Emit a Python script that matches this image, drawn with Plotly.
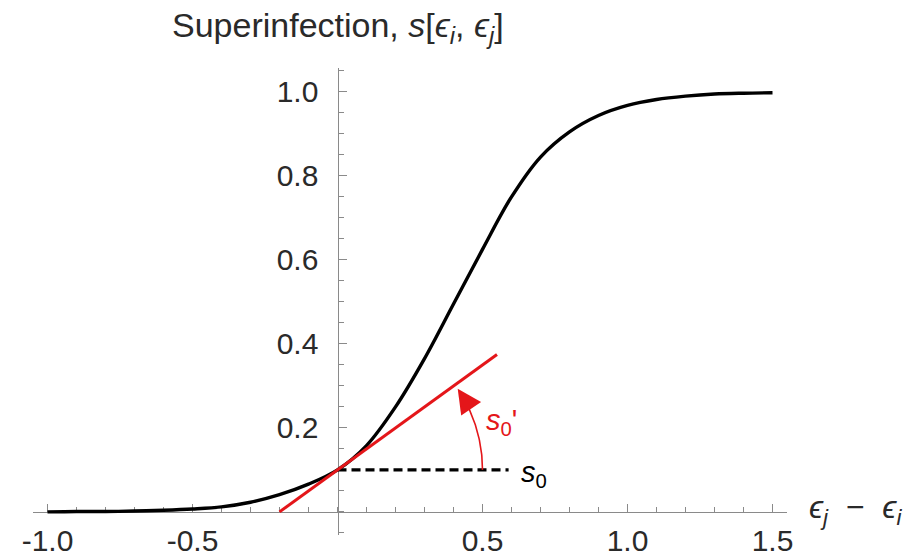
import numpy as np
import plotly.graph_objects as go

# ---- data ----
curve_x = [-1.0, -0.9, -0.8, -0.7, -0.6, -0.5, -0.4, -0.3, -0.2, -0.1, 0.0,
           0.1, 0.2, 0.3, 0.4, 0.5, 0.6, 0.7, 0.8, 0.9, 1.0, 1.1, 1.2, 1.3, 1.4, 1.5]
curve_y = [0.000, 0.001, 0.001, 0.002, 0.004, 0.007, 0.012, 0.023, 0.041, 0.066, 0.100,
           0.158, 0.250, 0.365, 0.495, 0.625, 0.750, 0.845, 0.905, 0.944, 0.968, 0.982,
           0.990, 0.995, 0.997, 0.998]
tangent_x = [-0.2, 0.55]
tangent_y = [0.0, 0.375]
dash_x = [0.0, 0.59]
dash_y = [0.1, 0.1]
x_ticks = [-1.0, -0.5, 0.5, 1.0, 1.5]
x_tick_labels = ["-1.0", "-0.5", "0.5", "1.0", "1.5"]
y_ticks = [0.2, 0.4, 0.6, 0.8, 1.0]
y_tick_labels = ["0.2", "0.4", "0.6", "0.8", "1.0"]

# ---- layout geometry ----
W, H = 914, 557
ML, MR, MT, MB = 33, 127, 68, 22
x_range = [-1.05, 1.55]
y_range = [-0.055, 1.057]
plot_w = W - ML - MR
plot_h = H - MT - MB
px_x = plot_w / (x_range[1] - x_range[0])
px_y = plot_h / (y_range[1] - y_range[0])

RED = "rgb(228,22,26)"
AXIS = "#8a8a8a"
TXT = "#2a2a2a"
FONT = "Liberation Sans, Arial, sans-serif"

fig = go.Figure()
fig.add_trace(go.Scatter(x=curve_x, y=curve_y, mode="lines",
                         line=dict(color="black", width=3.4, shape="spline", smoothing=1.0),
                         hoverinfo="skip", showlegend=False))
fig.add_trace(go.Scatter(x=dash_x, y=dash_y, mode="lines",
                         line=dict(color="black", width=3.2, dash="9px,5px"),
                         hoverinfo="skip", showlegend=False))
fig.add_trace(go.Scatter(x=tangent_x, y=tangent_y, mode="lines",
                         line=dict(color=RED, width=3),
                         hoverinfo="skip", showlegend=False))

# angle arc (decoration) centred at the point (0, s0), radius 0.5 in x units
R_px = 0.5 * px_x
cx, cy = dash_x[0], dash_y[0]
theta = np.linspace(0, np.radians(27), 40)
arc_x = cx + R_px * np.cos(theta) / px_x
arc_y = cy + R_px * np.sin(theta) / px_y
fig.add_trace(go.Scatter(x=arc_x, y=arc_y, mode="lines",
                         line=dict(color=RED, width=1.6),
                         hoverinfo="skip", showlegend=False))
tip_t = np.radians(34)
L = 18
fig.add_annotation(x=cx + R_px * np.cos(tip_t) / px_x, y=cy + R_px * np.sin(tip_t) / px_y,
                   ax=L * np.sin(tip_t), ay=L * np.cos(tip_t), xref="x", yref="y",
                   text="", showarrow=True, arrowhead=2, arrowsize=3, arrowwidth=1.6,
                   arrowcolor=RED, standoff=0)

fig.add_annotation(x=0.505, y=0.215, xref="x", yref="y", xanchor="left", yanchor="middle",
                   text="<i>s</i><sub>0</sub>'", showarrow=False,
                   font=dict(family=FONT, size=29, color=RED))
fig.add_annotation(x=0.625, y=0.09, xref="x", yref="y", xanchor="left", yanchor="middle",
                   text="<i>s</i><sub>0</sub>", showarrow=False,
                   font=dict(family=FONT, size=29, color="black"))

# axis labels
fig.add_annotation(x=0, y=1 + 41 / plot_h, xref="x", yref="paper",
                   xanchor="center", yanchor="middle",
                   text="Superinfection, <i>s</i>[<i>ϵ</i><sub><i>i</i></sub>, <i>ϵ</i><sub><i>j</i></sub>]",
                   showarrow=False, font=dict(family=FONT, size=34, color=TXT))
fig.add_annotation(x=1, y=0, xref="paper", yref="y", xanchor="left", yanchor="middle",
                   xshift=20, yshift=2,
                   text="<i>ϵ</i><sub><i>j</i></sub>&nbsp;&nbsp;−&nbsp;&nbsp;<i>ϵ</i><sub><i>i</i></sub>",
                   showarrow=False, font=dict(family=FONT, size=32, color=TXT))

x_pos = (0 - y_range[0]) / (y_range[1] - y_range[0])
y_pos = (0 - x_range[0]) / (x_range[1] - x_range[0])

fig.update_layout(
    width=W, height=H, margin=dict(l=ML, r=MR, t=MT, b=MB, autoexpand=False),
    paper_bgcolor="white", plot_bgcolor="white", showlegend=False,
    xaxis=dict(range=x_range, anchor="free", position=x_pos, showgrid=False, zeroline=False,
               automargin=False,
               showline=True, linecolor=AXIS, linewidth=1.2, layer="below traces",
               tickmode="array", tickvals=x_ticks, ticktext=x_tick_labels,
               ticks="inside", ticklen=8, tickwidth=1.2, tickcolor=AXIS,
               tickfont=dict(family=FONT, size=30, color=TXT), ticklabelstandoff=2,
               minor=dict(tickmode="linear", tick0=0, dtick=0.1, ticks="inside",
                          ticklen=5, tickwidth=1, tickcolor=AXIS)),
    yaxis=dict(range=y_range, anchor="free", position=y_pos, showgrid=False, zeroline=False,
               automargin=False,
               showline=True, linecolor=AXIS, linewidth=1.2, layer="below traces",
               tickmode="array", tickvals=y_ticks, ticktext=y_tick_labels,
               ticks="inside", ticklen=8, tickwidth=1.2, tickcolor=AXIS,
               tickfont=dict(family=FONT, size=30, color=TXT), ticklabelstandoff=13,
               minor=dict(tickmode="linear", tick0=0, dtick=0.05, ticks="inside",
                          ticklen=5, tickwidth=1, tickcolor=AXIS)),
)

fig.write_html("out.html", config={"displayModeBar": False},
               post_script="document.body.style.margin='0';document.body.style.overflow='hidden';")
